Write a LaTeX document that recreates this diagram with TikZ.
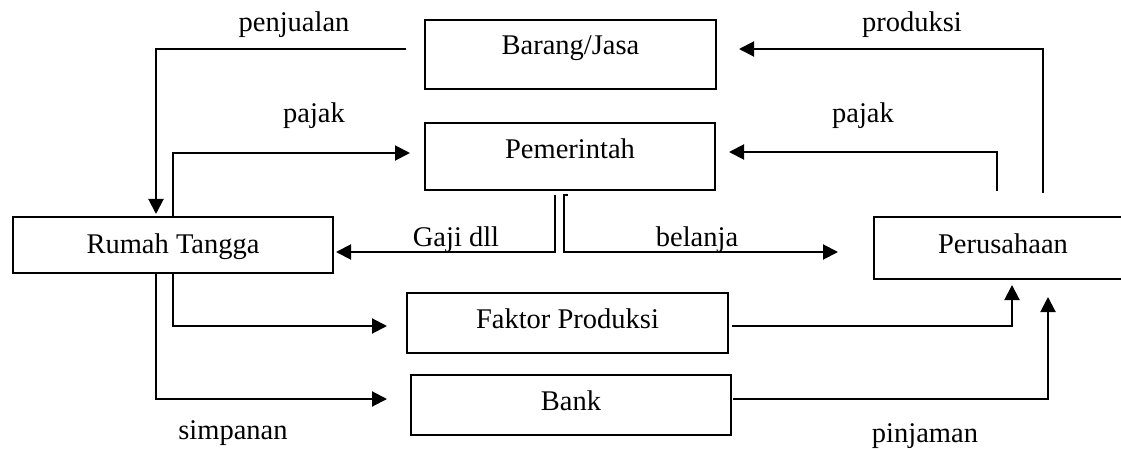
\documentclass[tikz,border=0pt]{standalone}
\usepackage{fontspec}
\setmainfont{Liberation Serif}
\usetikzlibrary{arrows.meta,calc}
\begin{document}
\begin{tikzpicture}[x=1pt,y=-1pt,
  every node/.style={font=\fontsize{28.5pt}{34pt}\selectfont},
  box/.style={draw,line width=2pt,rectangle,inner sep=0pt,anchor=north west},
  lab/.style={anchor=base,inner sep=0pt},
  arr/.style={line width=2pt,-{Triangle[length=15pt,width=15pt]}}]
\useasboundingbox (0,0) rectangle (1121,449);
\clip (0,0) rectangle (1121,449);
% boxes
\node[box,minimum width=291pt,text height=35pt,text depth=34pt] (barang) at (424,19) {Barang/Jasa};
\node[box,minimum width=290pt,text height=36pt,text depth=31pt] (pem) at (424,122) {Pemerintah};
\node[box,minimum width=320pt,text height=36pt,text depth=20pt] (rt) at (12,216) {Rumah Tangga};
\node[box,minimum width=258pt,text height=36pt,text depth=26pt] (per) at (873,216) {Perusahaan};
\node[box,minimum width=321pt,text height=35pt,text depth=25pt] (fak) at (406,292) {Faktor Produksi};
\node[box,minimum width=320pt,text height=35pt,text depth=25pt] (bank) at (410,374) {Bank};
% labels
\node[lab] (lpenj) at (294,32) {penjualan};
\node[lab] (lprod) at (912,32) {produksi};
\node[lab] (lpajl) at (314,123) {pajak};
\node[lab] (lpajr) at (863,123) {pajak};
\node[lab] (lgaji) at (456,246) {Gaji dll};
\node[lab] (lbel) at (697,246) {belanja};
\node[lab] (lsimp) at (233,439) {simpanan};
\node[lab] (lpinj) at (925,442) {pinjaman};
% connectors
\draw[arr] ($(barang.north west)+(-18,30)$) -| ($(rt.north west)+(144,-2)$);
\draw[arr] ($(rt.north west)+(161,0)$) |- ($(pem.north west)+(-14,31)$);
\draw[arr] ($(pem.south west)+(131,4)$) |- ($(rt.north east)+(2,36)$);
\draw[arr] ($(pem.south west)+(144,4)$) -- ($(pem.south west)+(140,4)$) |- ($(per.north west)+(-35,36)$);
\draw[arr] ($(per.north west)+(124,-25)$) |- ($(pem.north east)+(13,30)$);
\draw[arr] ($(per.north west)+(170,-23)$) |- ($(barang.north east)+(22,30)$);
\draw[arr] ($(rt.south west)+(161,0)$) |- ($(fak.north west)+(-19,34)$);
\draw[arr] ($(fak.north east)+(3,34)$) -| ($(per.south west)+(139,5)$);
\draw[arr] ($(rt.south west)+(144,0)$) |- ($(bank.north west)+(-23,25)$);
\draw[arr] ($(bank.north east)+(1,25)$) -| ($(per.south west)+(175,17)$);
\end{tikzpicture}
\end{document}
